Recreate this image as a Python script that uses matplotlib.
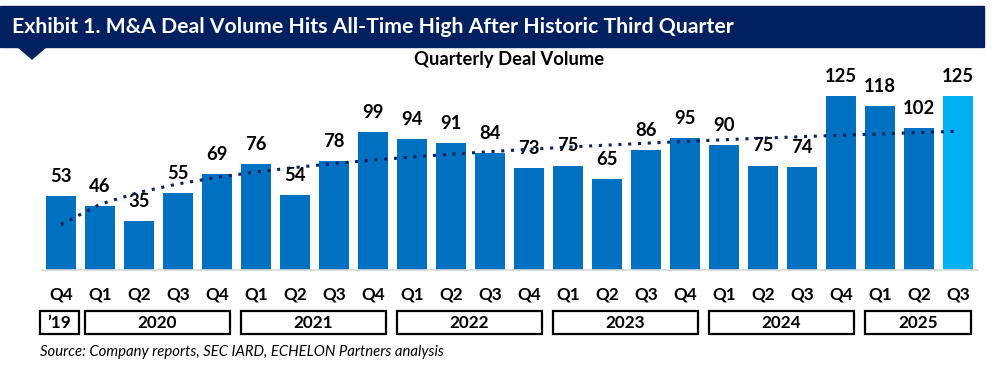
import numpy as np
import matplotlib
matplotlib.use("Agg")
import matplotlib.pyplot as plt
from matplotlib.patches import Rectangle, Polygon

plt.rcParams['font.family'] = ['Lato', 'DejaVu Sans']

# data
quarters = ['Q4', 'Q1', 'Q2', 'Q3', 'Q4', 'Q1', 'Q2', 'Q3', 'Q4', 'Q1', 'Q2', 'Q3',
            'Q4', 'Q1', 'Q2', 'Q3', 'Q4', 'Q1', 'Q2', 'Q3', 'Q4', 'Q1', 'Q2', 'Q3']
deals = [53, 46, 35, 55, 69, 76, 54, 78, 99, 94, 91, 84,
         73, 75, 65, 86, 95, 90, 75, 74, 125, 118, 102, 125]
years = ["\u201919", '2020', '2021', '2022', '2023', '2024', '2025']
year_quarters = [1, 4, 4, 4, 4, 4, 3]

W, H = 1005, 368
fig = plt.figure(figsize=(W / 100, H / 100), dpi=100)

def fx(px):
    return px / W

def fy(py):
    return 1 - py / H

# === HEADER BANNER ===
fig.patches.append(Rectangle((0, fy(47)), fx(984), fy(6) - fy(47),
                             transform=fig.transFigure, color='#002060', zorder=0))
fig.patches.append(Polygon([(fx(17), fy(46)), (fx(47), fy(46)), (fx(32), fy(59))],
                           closed=True, transform=fig.transFigure, color='#002060', zorder=0))
fig.text(fx(12), fy(27), 'Exhibit 1. M&A Deal Volume Hits All-Time High After Historic Third Quarter',
         color='white', fontsize=15.3, fontweight='bold', va='center', ha='left')
fig.text(fx(509), fy(60), 'Quarterly Deal Volume', fontsize=13.2, fontweight='bold',
         va='center', ha='center')

# === BAR CHART ===
ax = fig.add_axes([fx(41.5), fy(270), fx(936), fy(75) - fy(270)])
x = np.arange(len(deals))
colors = ['#0070C0'] * (len(deals) - 1) + ['#00B0F0']
ax.bar(x, deals, width=0.77, color=colors, zorder=2)
for xi, v in zip(x, deals):
    ax.annotate(str(v), (xi, v), xytext=(0, 8), textcoords='offset points',
                ha='center', va='bottom', fontsize=13.3, fontweight='bold', zorder=3)

# logarithmic trendline
b, a = np.polyfit(np.log(x + 1), deals, 1)
ax.plot(x, a + b * np.log(x + 1), linestyle=(0, (1, 2.2)), color='#0B2060',
        linewidth=2.2, zorder=4)

ax.set_xlim(-0.5, len(deals) - 0.5)
ax.set_ylim(0, 140)
for s in ['top', 'right', 'left']:
    ax.spines[s].set_visible(False)
ax.spines['bottom'].set_color('#D9D9D9')
ax.spines['bottom'].set_linewidth(1.2)
ax.set_yticks([])
ax.set_xticks(x)
ax.set_xticklabels(quarters, fontsize=12.3, fontweight='bold')
ax.tick_params(axis='x', length=0, pad=12)

# === YEAR BOXES ===
start = 0
for yr, n in zip(years, year_quarters):
    end = start + n - 1
    if n == 1:
        left, right = start - 0.54, end + 0.45
    else:
        left, right = start - 0.38, end + 0.33
    x0 = ax.transData.transform((left, 0))[0] / W
    x1 = ax.transData.transform((right, 0))[0] / W
    fig.patches.append(Rectangle((x0, fy(334)), x1 - x0, fy(311) - fy(334),
                                 transform=fig.transFigure, fill=False,
                                 edgecolor='black', linewidth=1.6))
    fig.text((x0 + x1) / 2, fy(323), yr, ha='center', va='center',
             fontsize=12.3, fontweight='bold')
    start += n

fig.text(fx(40), fy(352), 'Source: Company reports, SEC IARD, ECHELON Partners analysis',
         fontsize=10.7, fontstyle='italic', ha='left', va='center')

fig.savefig('out.png', dpi=100)
